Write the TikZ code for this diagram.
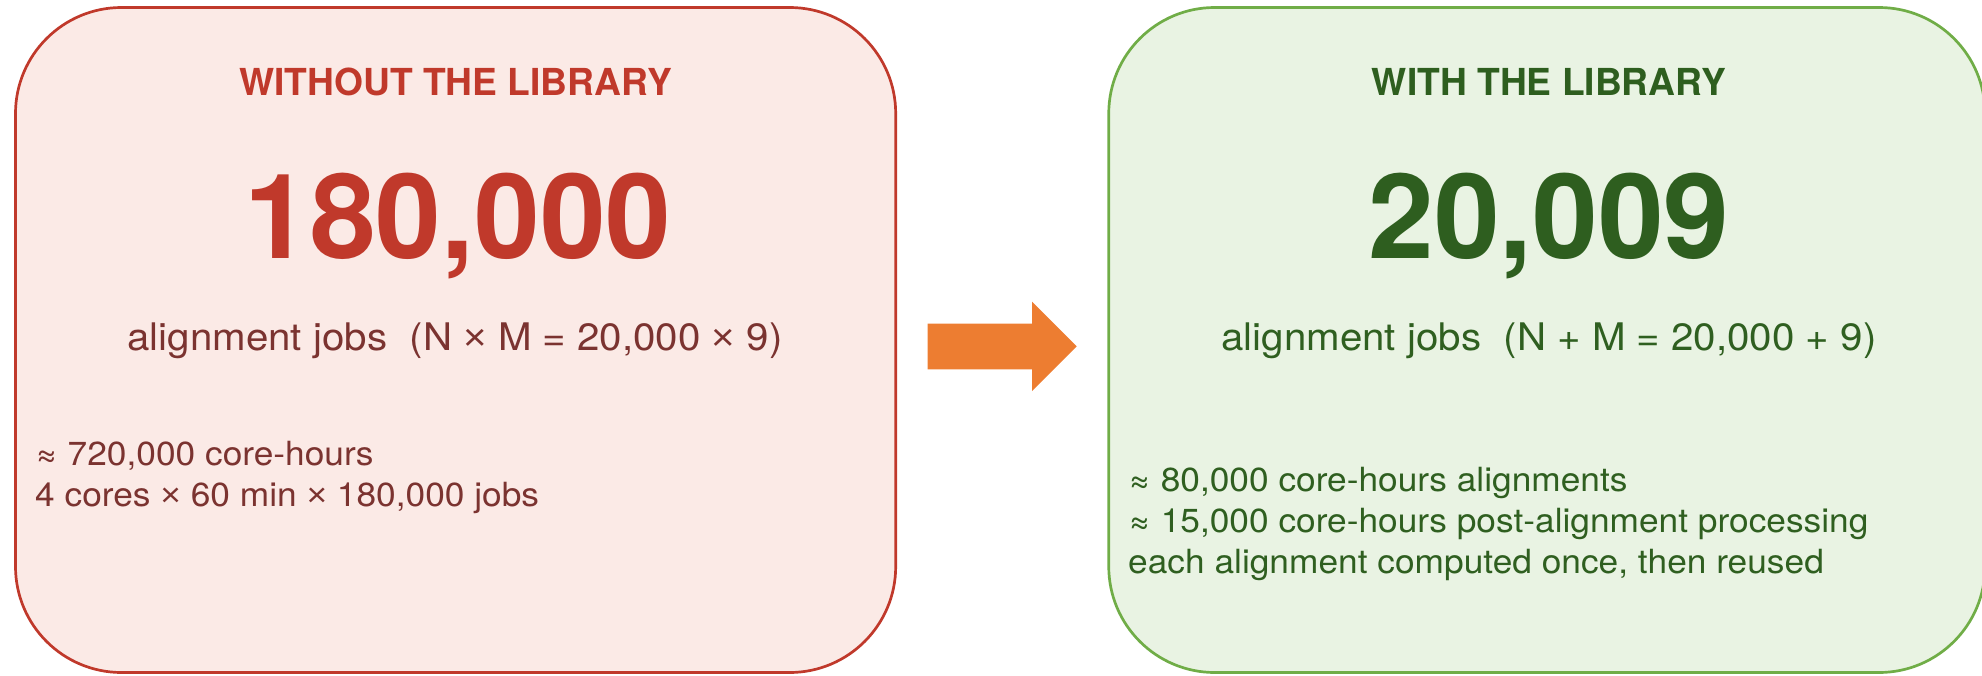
\documentclass[tikz,border=0pt]{standalone}
\usepackage{fontspec}
\setmainfont{TeX Gyre Heros}
\newfontfamily\regfont[FakeStretch=1.06]{TeX Gyre Heros}
\newfontfamily\symfont[FakeStretch=1.06]{Liberation Sans}
\newcommand{\tms}{{\symfont ×}}
\definecolor{redline}{HTML}{C0392B}
\definecolor{redfill}{HTML}{FBEAE6}
\definecolor{redtitle}{HTML}{C0392B}
\definecolor{redbody}{HTML}{7B3330}
\definecolor{greenline}{HTML}{70AD47}
\definecolor{greenfill}{HTML}{E9F3E3}
\definecolor{greentitle}{HTML}{2E5E1F}
\definecolor{greenbody}{HTML}{2F5F20}
\definecolor{arroworange}{HTML}{ED7D31}
\tikzset{
  panel/.style={draw, line width=2.7pt, rounded corners=106pt, inner sep=0pt, minimum height=665pt},
  titletext/.style={anchor=base, inner sep=0pt, font=\fontsize{37.2}{40}\selectfont\bfseries},
  bignum/.style={anchor=base, inner sep=0pt, font=\fontsize{118}{120}\selectfont\bfseries},
  jobstext/.style={anchor=base, inner sep=0pt, font=\regfont\fontsize{38}{42}\selectfont},
  notetext/.style={anchor=base west, inner sep=0pt, font=\regfont\fontsize{33.3}{41}\selectfont}
}
\begin{document}
\begin{tikzpicture}[x=1pt,y=-1pt]
\useasboundingbox (0,0) rectangle (1982,675);
% panels
\node[panel, draw=redline, fill=redfill, minimum width=880.2pt] (left) at (455.6,340) {};
\node[panel, draw=greenline, fill=greenfill, minimum width=876.3pt] (right) at (1546.9,340) {};
% arrow
\fill[arroworange] (927.7,323.7) -- (1032,323.7) -- (1032,301.7) -- (1076.7,346.4)
  -- (1032,391) -- (1032,369.3) -- (927.7,369.3) -- cycle;
% left texts
\node[titletext, text=redtitle] (ltitle) at (455.5,95.5) {WITHOUT THE LIBRARY};
\node[bignum, text=redtitle] (lnum) at (458,258) {180,000};
\node[jobstext, text=redbody] (ljobs) at (455,350) {alignment jobs~~(N \tms{} M = 20,000 \tms{} 9)};
\node[notetext, text=redbody] (lnote1) at (35,465) {≈ 720,000 core-hours};
\node[notetext, text=redbody] (lnote2) at (35,506) {4 cores \tms{} 60 min \tms{} 180,000 jobs};
% right texts
\node[titletext, text=greentitle] (rtitle) at (1549,95.5) {WITH THE LIBRARY};
\node[bignum, text=greentitle] (rnum) at (1549,258) {20,009};
\node[jobstext, text=greenbody] (rjobs) at (1549,350) {alignment jobs~~(N + M = 20,000 + 9)};
\node[notetext, text=greenbody] (rnote1) at (1128,491.5) {≈ 80,000 core-hours alignments};
\node[notetext, text=greenbody] (rnote2) at (1128,532.5) {≈ 15,000 core-hours post-alignment processing};
\node[notetext, text=greenbody] (rnote3) at (1128,573.5) {each alignment computed once, then reused};
\end{tikzpicture}
\end{document}
